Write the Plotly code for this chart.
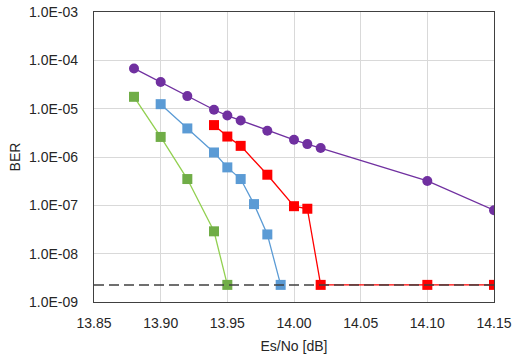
import plotly.graph_objects as go

x_purple = [13.88, 13.90, 13.92, 13.94, 13.95, 13.96, 13.98, 14.00, 14.01, 14.02, 14.10, 14.15]
y_purple = [6.8e-5, 3.56e-5, 1.82e-5, 9.5e-6, 7.2e-6, 5.7e-6, 3.5e-6, 2.27e-6, 1.85e-6, 1.53e-6, 3.2e-7, 7.9e-8]

x_red = [13.94, 13.95, 13.96, 13.98, 14.00, 14.01, 14.02, 14.10, 14.15]
y_red = [4.57e-6, 2.65e-6, 1.7e-6, 4.3e-7, 9.6e-8, 8.5e-8, 2.26e-9, 2.26e-9, 2.26e-9]

x_blue = [13.90, 13.92, 13.94, 13.95, 13.96, 13.97, 13.98, 13.99]
y_blue = [1.24e-5, 3.9e-6, 1.24e-6, 6.1e-7, 3.5e-7, 1.06e-7, 2.5e-8, 2.26e-9]

x_green = [13.88, 13.90, 13.92, 13.94, 13.95]
y_green = [1.76e-5, 2.6e-6, 3.5e-7, 2.9e-8, 2.26e-9]

x_floor = [13.85, 14.15]
y_floor = [2.26e-9, 2.26e-9]

x_ticks = [13.85, 13.90, 13.95, 14.00, 14.05, 14.10, 14.15]
x_tick_labels = ["13.85", "13.90", "13.95", "14.00", "14.05", "14.10", "14.15"]
y_ticks = [1e-9, 1e-8, 1e-7, 1e-6, 1e-5, 1e-4, 1e-3]
y_tick_labels = ["1.0E-09", "1.0E-08", "1.0E-07", "1.0E-06", "1.0E-05", "1.0E-04", "1.0E-03"]

fig = go.Figure()
fig.add_trace(go.Scatter(x=x_purple, y=y_purple, mode="lines+markers",
                         line=dict(color="#7030A0", width=1.3),
                         marker=dict(symbol="circle", size=10, color="#7030A0")))
fig.add_trace(go.Scatter(x=x_red, y=y_red, mode="lines+markers",
                         line=dict(color="#FF0000", width=1.3),
                         marker=dict(symbol="square", size=10, color="#FF0000")))
fig.add_trace(go.Scatter(x=x_blue, y=y_blue, mode="lines+markers",
                         line=dict(color="#5B9BD5", width=1.3),
                         marker=dict(symbol="square", size=10, color="#5B9BD5")))
fig.add_trace(go.Scatter(x=x_green, y=y_green, mode="lines+markers",
                         line=dict(color="#92D050", width=1.3),
                         marker=dict(symbol="square", size=10, color="#70AD47")))
fig.add_trace(go.Scatter(x=x_floor, y=y_floor, mode="lines",
                         line=dict(color="#404040", width=1.5, dash="10px,5px")))

fig.update_layout(
    width=517, height=358,
    margin=dict(l=94, r=23, t=12, b=56, autoexpand=False),
    paper_bgcolor="white", plot_bgcolor="white",
    showlegend=False,
    font=dict(family="Liberation Sans, Arial, sans-serif", size=14, color="#262626"),
    xaxis=dict(range=[13.85, 14.15], tickvals=x_ticks, ticktext=x_tick_labels,
               showgrid=True, gridcolor="#D9D9D9", gridwidth=1,
               showline=True, linecolor="#404040", linewidth=1.2, mirror=True,
               ticks="", zeroline=False, ticklabelstandoff=8,
               title=dict(text="Es/No [dB]", font=dict(size=14), standoff=11)),
    yaxis=dict(type="log", range=[-9, -3], tickvals=y_ticks, ticktext=y_tick_labels,
               showgrid=True, gridcolor="#D9D9D9", gridwidth=1,
               showline=True, linecolor="#404040", linewidth=1.2, mirror=True,
               ticks="", zeroline=False, ticklabelstandoff=12,
               title=dict(text="BER", font=dict(size=14), standoff=5)),
)

fig.write_html("out.html", config={"displayModeBar": False},
               post_script="document.body.style.margin='0';document.body.style.overflow='hidden';")
